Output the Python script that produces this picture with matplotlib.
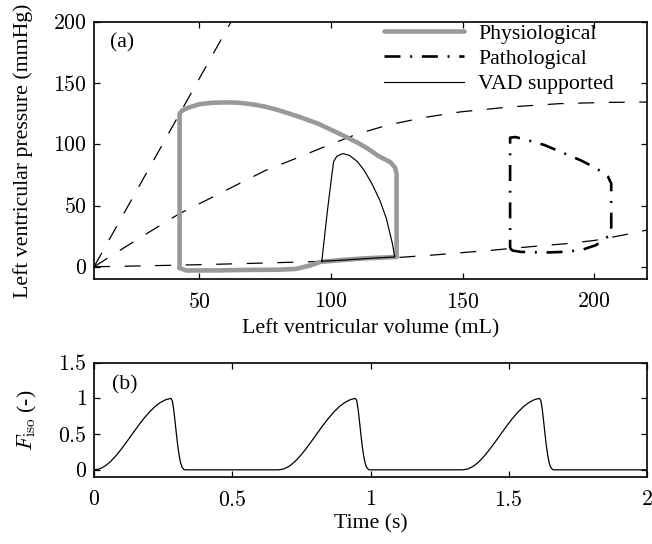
import matplotlib
matplotlib.use('Agg')
import matplotlib.pyplot as plt
import numpy as np
from matplotlib.ticker import FuncFormatter, FixedLocator

plt.rcParams['font.family'] = ['Liberation Serif', 'DejaVu Serif']
plt.rcParams['mathtext.fontset'] = 'cm'
plt.rcParams['lines.scale_dashes'] = False
plt.rcParams['font.size'] = 15.7

# ---------------- data: panel (a) PV loops ----------------
# physiological loop (filling -> contraction -> ejection -> relaxation)
phys_V = [42.5, 45, 55, 67, 80, 86.5, 92, 96, 104, 112, 120, 124.9,
          124.9, 124.9, 124.3, 122.5, 118, 114, 110, 105, 100, 95, 88,
          80, 75, 70, 65, 60, 55, 50, 46.5, 43.5, 42.5, 42.5, 42.5]
phys_P = [-1, -3, -3, -2.6, -2.4, -1.8, 1, 4, 5.5, 6.8, 7.6, 8,
          40, 76, 81, 85.5, 90.5, 96.5, 101.5, 106.8, 112, 117, 122.4,
          128, 130.8, 132.8, 134, 134.3, 134, 132.8, 130.5, 127.8, 125, 60, -1]

# pathological loop
path_V = [168, 169, 172, 181, 187.3, 194.8, 200.5, 204.9, 206.4,
          206.4, 205.2, 203.6, 199.8, 194.8, 187.3, 181, 174.6, 170, 168, 168]
path_P = [15, 13.2, 12.2, 11.6, 12.1, 13.5, 17.6, 24.3, 26.5,
          68, 73.5, 76.5, 81.5, 87, 93.8, 99.5, 103.5, 106, 105.5, 15]

# VAD supported loop
vad_V = [96.5, 105, 112, 118, 124.2, 123.3, 121, 118.6, 115.5, 112.5,
         110, 107, 104.5, 102.2, 101, 100.3, 98.5, 96.5]
vad_P = [4.5, 5.5, 6.5, 7.3, 8, 19, 39.5, 54, 68, 79,
         86, 91, 92.5, 90.3, 86, 75, 43.5, 4.5]

# ESPVR (physiological, linear)
espvr1_V = [10, 62]
espvr1_P = [0, 200]
# curved ESPVR
espvr2_V = [10, 21, 31, 42.5, 52.6, 62.6, 75.2, 86.5, 98, 110, 122, 136,
            149, 168, 187, 205, 220]
espvr2_P = [0, 15, 28.4, 43.5, 54.3, 65.2, 78.8, 88.4, 98.5, 108.5, 116,
            122.2, 126.5, 130.6, 133.3, 134.3, 134.6]
# EDPVR
edpvr_V = [10, 30, 50, 70, 90, 100, 110, 125, 140, 150, 160, 170, 180,
           190, 200, 210, 220]
edpvr_P = [0, 0.8, 1.7, 2.8, 4.0, 4.7, 5.6, 7.5, 9.8, 11.6, 13.3, 15.3,
           17.2, 19.0, 21.5, 25.5, 30]

# ---------------- data: panel (b) F_iso ----------------
beat_t = [0, 0.02, 0.04, 0.06, 0.08, 0.10, 0.12, 0.14, 0.16, 0.18, 0.20,
          0.22, 0.24, 0.26, 0.278, 0.283, 0.288, 0.293, 0.298, 0.303,
          0.308, 0.313, 0.318, 0.325, 0.33]
beat_F = [0, 0.013, 0.053, 0.117, 0.2, 0.297, 0.402, 0.51, 0.617, 0.718,
          0.808, 0.884, 0.943, 0.983, 1.0, 0.97, 0.85, 0.68, 0.5, 0.33,
          0.2, 0.1, 0.04, 0.005, 0]
beat_onsets = [0, 0.667, 1.333]
t_end = 2.0

vol_ticks = [50, 100, 150, 200]
pres_ticks = [0, 50, 100, 150, 200]
time_ticks = [0, 0.5, 1, 1.5, 2]
fiso_ticks = [0, 0.5, 1, 1.5]

# ---------------- figure ----------------
fig = plt.figure(figsize=(6.52, 5.44), dpi=100)
ax1 = fig.add_axes([0.1442, 0.4871, 0.8482, 0.4725])
ax2 = fig.add_axes([0.1442, 0.1232, 0.8482, 0.2101])

dash = (0, (11.5, 10.5))
ax1.plot(espvr1_V, espvr1_P, color='black', lw=0.9, linestyle=dash)
ax1.plot(espvr2_V, espvr2_P, color='black', lw=0.9, linestyle=dash)
ax1.plot(edpvr_V, edpvr_P, color='black', lw=0.9, linestyle=dash)

l1, = ax1.plot(phys_V, phys_P, color='#999999', lw=3.3,
               solid_joinstyle='round', solid_capstyle='round',
               label='Physiological')
l2, = ax1.plot(path_V, path_P, color='black', lw=1.9,
               linestyle=(0, (11.5, 7.0, 1.4, 7.0)),
               label='Pathological')
l3, = ax1.plot(vad_V, vad_P, color='black', lw=0.85, label='VAD supported')

ax1.set_xlim(10, 220)
ax1.set_ylim(-10, 200)

t_all = []
F_all = []
for on in beat_onsets:
    t_all.extend([on + t for t in beat_t])
    F_all.extend(beat_F)
t_all.append(t_end)
F_all.append(0)
ax2.plot(t_all, F_all, color='black', lw=0.9)
ax2.set_xlim(0, 2)
ax2.set_ylim(-0.1, 1.5)

fmt = FuncFormatter(lambda v, p: '$%g$' % v)
for ax, xt, yt in [(ax1, vol_ticks, pres_ticks), (ax2, time_ticks, fiso_ticks)]:
    ax.xaxis.set_major_locator(FixedLocator(xt))
    ax.yaxis.set_major_locator(FixedLocator(yt))
    ax.xaxis.set_major_formatter(fmt)
    ax.yaxis.set_major_formatter(fmt)
    ax.tick_params(direction='in', top=True, right=True, length=4, width=0.9,
                   labelsize=15.7)
    ax.tick_params(axis='x', pad=10)
    ax.tick_params(axis='y', pad=5)
    for s in ax.spines.values():
        s.set_linewidth(1.2)

ax1.set_xlabel('Left ventricular volume (mL)')
ax1.set_ylabel('Left ventricular pressure (mmHg)')
ax1.yaxis.set_label_coords(-0.110, 0.5)
ax1.xaxis.set_label_coords(0.5, -0.155)
ax2.set_xlabel('Time (s)')
ax2.set_ylabel(r'$F_{\rm iso}$ (-)')
ax2.yaxis.set_label_coords(-0.100, 0.5)
ax2.xaxis.set_label_coords(0.5, -0.324)

ax1.text(0.029, 0.917, '(a)', transform=ax1.transAxes, ha='left', va='center')
ax2.text(0.032, 0.805, '(b)', transform=ax2.transAxes, ha='left', va='center')

ax1.legend(handles=[l1, l2, l3], loc='upper right', bbox_to_anchor=(0.94, 0.993),
           frameon=False, borderpad=0, borderaxespad=0, handlelength=3.67,
           handletextpad=0.64, labelspacing=0.22, fontsize=15.7)

fig.savefig('out.png', dpi=100)
